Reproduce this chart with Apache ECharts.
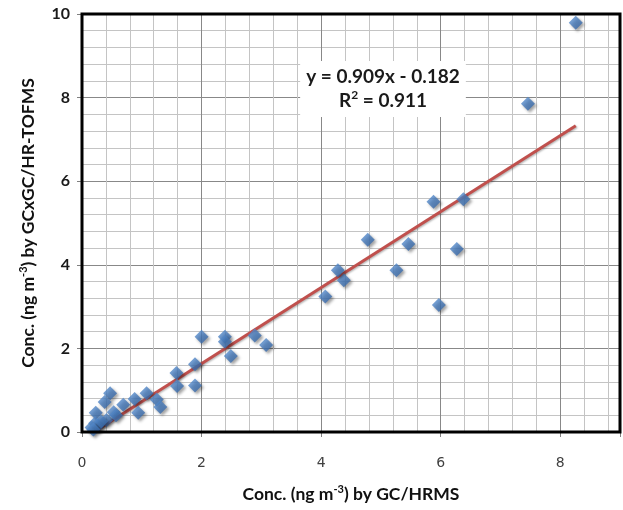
<!DOCTYPE html>
<html>
<head>
<meta charset="utf-8">
<script src="https://cdn.jsdelivr.net/npm/echarts@6/dist/echarts.min.js"></script>
<style>
  html, body { margin: 0; padding: 0; background: #fff; }
  #chart { width: 623px; height: 510px; }
</style>
</head>
<body>
<div id="chart"></div>
<script>
// concentrations (ng m-3)
var gcHrms = [8.26, 7.46, 6.38, 5.88, 6.27, 5.97, 5.46, 5.26, 4.78, 4.38, 4.28, 4.07,
  3.08, 2.89, 2.49, 2.39, 2.39, 2.00, 1.89, 1.89, 1.58, 1.59,
  0.47, 0.38, 0.23, 0.22, 0.16, 0.27, 0.41, 0.53, 0.69, 0.88, 0.94, 1.08, 1.25, 1.31, 0.57, 0.32, 0.19];
var gcxgcTofms = [9.79, 7.85, 5.57, 5.51, 4.38, 3.04, 4.50, 3.87, 4.60, 3.63, 3.87, 3.24,
  2.08, 2.31, 1.82, 2.28, 2.16, 2.28, 1.62, 1.11, 1.41, 1.10,
  0.93, 0.72, 0.46, 0.21, 0.11, 0.16, 0.29, 0.47, 0.65, 0.79, 0.46, 0.93, 0.78, 0.60, 0.40, 0.25, 0.06];

// linear fit reported on the chart
var slope = 0.909;
var intercept = -0.182;
var r2 = 0.911;

var xTicks = [0, 2, 4, 6, 8];
var yTicks = [0, 2, 4, 6, 8, 10];

var points = gcHrms.map(function (x, i) { return [x, gcxgcTofms[i]]; });
var xMin = Math.min.apply(null, gcHrms);
var xMax = Math.max.apply(null, gcHrms);
var fitLine = [[xMin, slope * xMin + intercept], [xMax, slope * xMax + intercept]];

var titleFont = 'Lato';
var chart = echarts.init(document.getElementById('chart'));

var titleRich = {
  t: { fontFamily: titleFont, fontWeight: 'bold', fontSize: 17.5, color: '#111', lineHeight: 20 },
  s: { fontFamily: titleFont, fontWeight: 'bold', fontSize: 11, color: '#111', lineHeight: 11, verticalAlign: 'top' }
};

var option = {
  animation: false,
  grid: {
    left: 82, right: 3, top: 14, bottom: 78,
    show: true, z: 10,
    backgroundColor: 'transparent',
    borderColor: '#000', borderWidth: 3
  },
  xAxis: {
    type: 'value', min: 0, max: 9, interval: 2,
    axisLine: { show: false },
    axisTick: { show: true, length: 5, lineStyle: { color: '#808080' } },
    axisLabel: {
      margin: 24, color: '#404040', fontFamily: 'DejaVu Sans', fontSize: 14,
      formatter: function (v) { return xTicks.indexOf(v) >= 0 ? String(v) : ''; }
    },
    splitLine: { show: true, lineStyle: { color: '#888', width: 1 } },
    minorTick: { show: false, splitNumber: 5 },
    minorSplitLine: { show: true, lineStyle: { color: '#c4c4c4', width: 1 } },
    name: '{t|Conc. (ng m}{s|-3}{t|) by GC/HRMS}',
    nameLocation: 'middle', nameGap: 52,
    nameTextStyle: { rich: titleRich }
  },
  yAxis: {
    type: 'value', min: 0, max: 10, interval: 2,
    axisLine: { show: false },
    axisTick: { show: true, length: 5, lineStyle: { color: '#808080' } },
    axisLabel: {
      margin: 12, color: '#1a1a1a', fontFamily: titleFont, fontWeight: 'bold', fontSize: 16,
      formatter: function (v) { return yTicks.indexOf(v) >= 0 ? String(v) : ''; }
    },
    splitLine: { show: true, lineStyle: { color: '#888', width: 1 } },
    minorTick: { show: false, splitNumber: 5 },
    minorSplitLine: { show: true, lineStyle: { color: '#c4c4c4', width: 1 } },
    name: '{t|Conc. (ng m}{s|-3}{t|) by GCxGC/HR-TOFMS}',
    nameLocation: 'middle', nameGap: 44, nameRotate: 90,
    nameTextStyle: { rich: titleRich }
  },
  graphic: [{
    type: 'text',
    x: 383, y: 61,
    z: 20,
    style: {
      text: '{a|y = ' + slope.toFixed(3) + 'x - ' + Math.abs(intercept).toFixed(3) + '}\n{a|R}{s|2}{a| = ' + r2.toFixed(3) + '}',
      align: 'center',
      backgroundColor: '#fff',
      padding: [4, 6, 4, 6],
      rich: {
        a: { fontFamily: titleFont, fontWeight: 'bold', fontSize: 19, fill: '#1a1a1a', lineHeight: 24, align: 'center' },
        s: { fontFamily: titleFont, fontWeight: 'bold', fontSize: 12, fill: '#1a1a1a', lineHeight: 14, verticalAlign: 'top' }
      }
    }
  }],
  series: [
    {
      name: 'trend',
      type: 'line',
      data: fitLine,
      symbol: 'none',
      z: 3,
      lineStyle: {
        color: '#c0504d', width: 3,
        shadowColor: 'rgba(0,0,0,0.3)', shadowBlur: 2, shadowOffsetX: 1, shadowOffsetY: 1
      }
    },
    {
      name: 'samples',
      type: 'scatter',
      data: points,
      symbol: 'diamond',
      symbolSize: 14,
      z: 4,
      itemStyle: {
        color: new echarts.graphic.LinearGradient(0, 0, 1, 1, [
          { offset: 0, color: '#5e95d6' },
          { offset: 1, color: '#2f5f9f' }
        ]),
        shadowColor: 'rgba(0,0,0,0.45)', shadowBlur: 3, shadowOffsetX: 2, shadowOffsetY: 2
      }
    }
  ]
};

chart.setOption(option);
</script>
</body>
</html>
